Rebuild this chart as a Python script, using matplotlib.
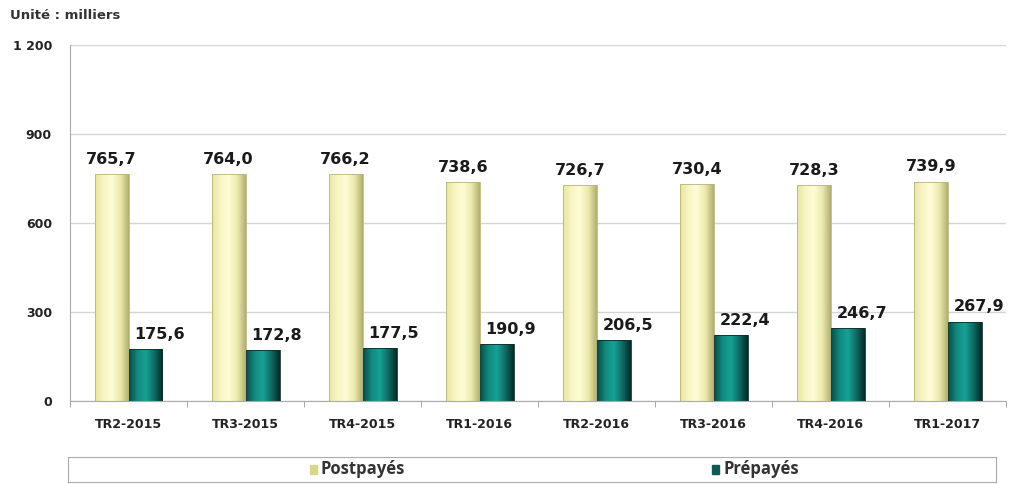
import numpy as np
import matplotlib.pyplot as plt
from matplotlib.colors import LinearSegmentedColormap
from matplotlib.patches import Rectangle

quarters = ['TR2-2015', 'TR3-2015', 'TR4-2015', 'TR1-2016',
            'TR2-2016', 'TR3-2016', 'TR4-2016', 'TR1-2017']
postpayes = [765.7, 764.0, 766.2, 738.6, 726.7, 730.4, 728.3, 739.9]
prepayes = [175.6, 172.8, 177.5, 190.9, 206.5, 222.4, 246.7, 267.9]
yticks = [0, 300, 600, 900, 1200]
ytick_labels = ['0', '300', '600', '900', '1 200']

post_cmap = LinearSegmentedColormap.from_list(
    'post', ['#e8e5a2', '#f8f6c4', '#fdfcd6', '#eceaad', '#b2af72'])
pre_cmap = LinearSegmentedColormap.from_list(
    'pre', ['#0a4d47', '#128a80', '#17a195', '#0e6b63', '#042c28'])


def gradient_bars(ax, xs, heights, width, cmap, edge):
    grad = np.linspace(0, 1, 64).reshape(1, -1)
    bars = ax.bar(xs, heights, width, color='none', edgecolor=edge, linewidth=0.6, zorder=3)
    for b in bars:
        x0 = b.get_x()
        im = ax.imshow(grad, cmap=cmap, aspect='auto', zorder=2.5,
                       extent=[x0, x0 + b.get_width(), 0, b.get_height()])
        im.set_clip_path(b)
    return bars


fig = plt.figure(figsize=(10.09, 4.84), dpi=100)
ax = fig.add_axes([0.0694, 0.1715, 0.928, 0.7355])

x = np.arange(len(quarters))
w = 0.29
off = 0.145
gradient_bars(ax, x - off, postpayes, w, post_cmap, '#b8b57a')
gradient_bars(ax, x + off, prepayes, w, pre_cmap, '#06302c')

for i in x:
    ax.text(i - off, postpayes[i] + 24, f'{postpayes[i]:.1f}'.replace('.', ','),
            ha='center', va='bottom', fontsize=11.5, fontweight='bold', color='#1a1a1a')
    ax.text(i + off + 0.12, prepayes[i] + 24, f'{prepayes[i]:.1f}'.replace('.', ','),
            ha='center', va='bottom', fontsize=11.5, fontweight='bold', color='#1a1a1a')

ax.set_xlim(-0.5, len(quarters) - 0.5)
ax.set_ylim(0, 1200)
ax.set_yticks(yticks)
ax.set_yticklabels(ytick_labels, fontsize=9, fontweight='bold', color='#222222')
ax.set_xticks(x)
ax.set_xticklabels(quarters, fontsize=9, fontweight='bold', color='#222222')
ax.tick_params(axis='x', length=0, pad=12)
ax.tick_params(axis='y', length=0, pad=13)
ax.set_xticks(np.arange(-0.5, len(quarters), 1), minor=True)
ax.tick_params(axis='x', which='minor', length=4, color='#999999')

ax.grid(axis='y', color='#d5d5d5', linewidth=1)
ax.set_axisbelow(True)
for s in ['top', 'right']:
    ax.spines[s].set_visible(False)
ax.spines['left'].set_color('#aaaaaa')
ax.spines['bottom'].set_color('#aaaaaa')

fig.text(0.010, 0.960, 'Unité : milliers', fontsize=9.5, fontweight='bold', color='#333333')

# legend box
lax = fig.add_axes([0.067, 0.005, 0.92, 0.05])
lax.set_xlim(0, 1)
lax.set_ylim(0, 1)
lax.set_xticks([])
lax.set_yticks([])
for s in lax.spines.values():
    s.set_color('#aaaaaa')
lax.add_patch(Rectangle((0.261, 0.3), 0.008, 0.4, color='#d9d88a'))
lax.text(0.272, 0.5, 'Postpayés', va='center', fontsize=12, fontweight='bold',
         family='Open Sans', color='#333333')
lax.add_patch(Rectangle((0.694, 0.3), 0.008, 0.4, color='#0e5a54'))
lax.text(0.707, 0.5, 'Prépayés', va='center', fontsize=12, fontweight='bold',
         family='Open Sans', color='#333333')

fig.savefig('out.png', dpi=100)
